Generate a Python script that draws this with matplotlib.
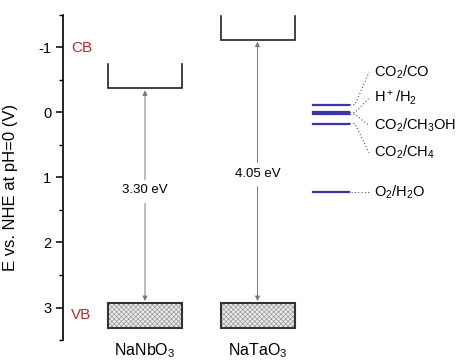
import numpy as np
import matplotlib.pyplot as plt
from matplotlib.patches import Rectangle

plt.rcParams['font.family'] = ['Liberation Sans', 'DejaVu Sans']
plt.rcParams['mathtext.fontset'] = 'custom'
plt.rcParams['mathtext.rm'] = 'Liberation Sans'
plt.rcParams['mathtext.default'] = 'regular'
plt.rcParams['axes.unicode_minus'] = False
plt.rcParams['hatch.linewidth'] = 0.5

# band edges (V vs NHE)
materials = [r'NaNbO$_3$', r'NaTaO$_3$']
cb = [-0.37, -1.12]
vb = [2.93, 2.93]
gaps = ['3.30 eV', '4.05 eV']

# redox potentials
redox_labels = [r'CO$_2$/CO', r'H$^+$/H$_2$', r'CO$_2$/CH$_3$OH', r'CO$_2$/CH$_4$', r'O$_2$/H$_2$O']
redox_pot = [-0.12, 0.0, 0.03, 0.17, 1.23]

# layout
mat_x = [82, 194.5]
half_w = 37
label_y = [-0.62, -0.22, 0.20, 0.62, 1.23]
gap_label_y = [1.2, 0.94]

fig = plt.figure(figsize=(4.62, 3.62), dpi=100)
ax = fig.add_axes([63/462, 22/362, 399/462, 325/362])
ax.set_xlim(0, 399)
ax.set_ylim(3.5, -1.5)

for s in ['top', 'right', 'bottom']:
    ax.spines[s].set_visible(False)
ax.spines['left'].set_linewidth(1.2)
ax.set_xticks([])
ax.set_yticks([-1, 0, 1, 2, 3])
ax.set_yticks([-1.5, -0.5, 0.5, 1.5, 2.5, 3.5], minor=True)
ax.tick_params(axis='y', which='major', length=5, width=1.1, labelsize=10.5, direction='out')
ax.tick_params(axis='y', which='minor', length=3, width=1.0, direction='out')
ax.set_ylabel('E vs. NHE at pH=0 (V)', fontsize=12)
ax.yaxis.set_label_coords(-0.113, 0.468)

for i in range(len(materials)):
    x0 = mat_x[i] - half_w
    x1 = mat_x[i] + half_w
    top = -0.75 if i == 0 else -1.49
    # conduction band bracket
    ax.plot([x0, x0, x1, x1], [top, cb[i], cb[i], top], color='#222222', lw=1.2,
            solid_joinstyle='miter', clip_on=False)
    # valence band box
    ax.add_patch(Rectangle((x0, vb[i]), 2 * half_w, 0.38, facecolor='#ececec',
                           edgecolor='#9a9a9a', hatch='xxxxxxx', lw=0))
    ax.add_patch(Rectangle((x0, vb[i]), 2 * half_w, 0.38, facecolor='none',
                           edgecolor='#333333', lw=1.5))
    # band gap arrows
    ax.text(mat_x[i], gap_label_y[i], gaps[i], ha='center', va='center', fontsize=9.5)
    ax.annotate('', xy=(mat_x[i], cb[i] + 0.03), xytext=(mat_x[i], gap_label_y[i] - 0.17),
                arrowprops=dict(arrowstyle='-|>', color='#777777', lw=0.7,
                                mutation_scale=7, shrinkA=0, shrinkB=0))
    ax.annotate('', xy=(mat_x[i], vb[i] - 0.03), xytext=(mat_x[i], gap_label_y[i] + 0.2),
                arrowprops=dict(arrowstyle='-|>', color='#777777', lw=0.7,
                                mutation_scale=7, shrinkA=0, shrinkB=0))
    ax.text(mat_x[i], 3.66, materials[i], ha='center', va='center', fontsize=11.5,
            clip_on=False)

ax.text(8, -1.0, 'CB', color='#c0282a', fontsize=11, va='center', ha='left')
ax.text(8, 3.12, 'VB', color='#c0282a', fontsize=11, va='center', ha='left')

# redox levels
for p, ly, lab in zip(redox_pot, label_y, redox_labels):
    ax.plot([250, 286], [p, p], color='#3a36a8', lw=1.6)
    if lab.startswith('O'):
        ax.plot([288, 307], [p, p], color='#555555', lw=0.8, ls=(0, (1, 2)))
    else:
        ax.plot([287, 292, 306], [p, p, ly], color='#555555', lw=0.8, ls=(0, (1, 2)))
    ax.text(311, ly, lab, ha='left', va='center', fontsize=10.5)

fig.savefig('out.png', dpi=100)
